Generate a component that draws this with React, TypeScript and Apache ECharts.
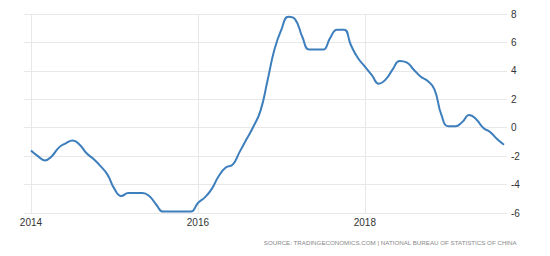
import React, { useEffect, useRef } from "react";
import * as echarts from "echarts";

const startYear = 2014;
const ppiValues: number[] = [
  // 2014
  -1.6, -2.0, -2.3, -2.0, -1.4, -1.1, -0.9, -1.2, -1.8, -2.2, -2.7, -3.3,
  // 2015
  -4.3, -4.8, -4.6, -4.6, -4.6, -4.8, -5.4, -5.9, -5.9, -5.9, -5.9, -5.9,
  // 2016
  -5.3, -4.9, -4.3, -3.4, -2.8, -2.6, -1.7, -0.8, 0.1, 1.2, 3.3, 5.5,
  // 2017
  6.9, 7.8, 7.6, 6.4, 5.5, 5.5, 5.5, 6.3, 6.9, 6.9, 5.8, 4.9,
  // 2018
  4.3, 3.7, 3.1, 3.4, 4.1, 4.7, 4.6, 4.1, 3.6, 3.3, 2.7, 0.9,
  // 2019
  0.1, 0.1, 0.4, 0.9, 0.6, 0.0, -0.3, -0.8, -1.2,
];
const yearTickMonths = [0, 24, 48];
const yearLabels = ["2014", "2016", "2018"];
const sourceText = "SOURCE: TRADINGECONOMICS.COM | NATIONAL BUREAU OF STATISTICS OF CHINA";

export default function App() {
  const ref = useRef<HTMLDivElement>(null);
  useEffect(() => {
    if (!ref.current) return;
    const chart = echarts.init(ref.current, null, { renderer: "svg" });
    const data = ppiValues.map((v, i) => [i, v]);
    chart.setOption({
      animation: false,
      grid: { left: 24, right: 43, top: 14, bottom: 43 },
      xAxis: {
        type: "value",
        min: -1,
        max: 68.43,
        axisLine: { show: false },
        axisTick: { show: false },
        splitLine: { show: false },
        axisLabel: {
          customValues: yearTickMonths,
          formatter: (v: number) => {
            const idx = yearTickMonths.indexOf(Math.round(v));
            return idx >= 0 ? yearLabels[idx] : "";
          },
          color: "#333",
          fontSize: 10,
          fontFamily: "Liberation Sans, Arial, sans-serif",
          margin: 4,
        },
      },
      yAxis: {
        type: "value",
        position: "right",
        min: -6,
        max: 8,
        interval: 2,
        axisLine: { show: false },
        axisTick: { show: false },
        splitLine: { lineStyle: { color: "#e8e8e8", width: 1 } },
        axisLabel: {
          color: "#333",
          fontSize: 10,
          fontFamily: "Liberation Sans, Arial, sans-serif",
          margin: 4,
        },
      },
      graphic: [
        {
          type: "text",
          right: 33,
          top: 239,
          style: {
            text: sourceText,
            fill: "#888",
            fontSize: 6.2,
            fontFamily: "Liberation Sans, Arial, sans-serif",
          },
        },
      ],
      series: [
        {
          type: "line",
          data,
          smooth: 0.5,
          showSymbol: false,
          lineStyle: { color: "#3d7ebc", width: 2 },
          markLine: {
            silent: true,
            symbol: "none",
            label: { show: false },
            lineStyle: { color: "#e8e8e8", width: 1, type: "solid" },
            data: yearTickMonths.map((m) => ({ xAxis: m })),
            z: 0,
          },
        },
      ],
    });
    return () => chart.dispose();
  }, []);
  return <div ref={ref} style={{ width: 550, height: 256, position: "absolute", left: 0, top: 0 }} />;
}
